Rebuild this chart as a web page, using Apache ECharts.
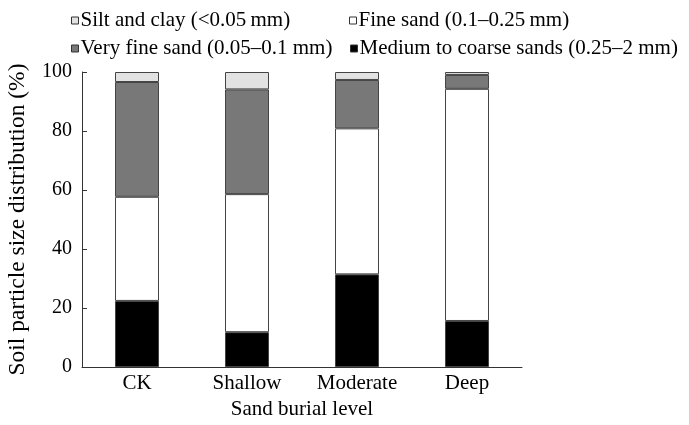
<!DOCTYPE html>
<html><head><meta charset="utf-8">
<script src="https://cdn.jsdelivr.net/npm/echarts@6/dist/echarts.min.js"></script>
<style>html,body{margin:0;padding:0;background:#fff}#c{width:689px;height:425px}</style>
</head><body><div id="c"></div>
<script>
var categories = ['CK', 'Shallow', 'Moderate', 'Deep'];
var mediumCoarse = [22.4, 11.8, 31.4, 15.6];
var fineSand = [35.3, 46.8, 49.5, 78.7];
var veryFineSand = [38.9, 35.5, 16.4, 4.7];
var siltClay = [3.4, 5.9, 2.7, 1.0];
var yTicks = [0, 20, 40, 60, 80, 100];

var names = {
  silt: 'Silt and clay (<0.05\u2009mm)',
  fine: 'Fine sand (0.1\u20130.25\u2009mm)',
  vfine: 'Very fine sand (0.05\u20130.1 mm)',
  med: 'Medium to coarse sands (0.25\u20132 mm)'
};
var font = 'Liberation Serif';
var chart = echarts.init(document.getElementById('c'));
function s(name, data, color) {
  return {name: name, type: 'bar', stack: 'a', data: data, barWidth: '40%',
    itemStyle: {color: color, borderColor: '#444', borderWidth: 1}};
}
function lg(name, left, top) {
  return {data: [name], left: left, top: top, padding: 0, icon: 'rect',
    itemWidth: 7, itemHeight: 7,
    itemStyle: {borderColor: '#333', borderWidth: 1},
    textStyle: {fontFamily: font, fontSize: 21, color: '#000', padding: [0, 0, 0, -3]}};
}
chart.setOption({
  animation: false,
  legend: [
    lg(names.silt, 71, 10),
    lg(names.fine, 349, 10),
    lg(names.vfine, 71, 38),
    lg(names.med, 350, 38)
  ],
  grid: {left: 82, right: 167, top: 72, bottom: 58, outerBoundsMode: 'none', containLabel: false},
  xAxis: {type: 'category', data: categories,
    name: 'Sand burial level', nameLocation: 'middle', nameGap: 31,
    nameTextStyle: {fontFamily: font, fontSize: 21, color: '#000'},
    axisLine: {lineStyle: {color: '#333', width: 1}},
    axisTick: {inside: true, length: 5, lineStyle: {color: '#333'}},
    axisLabel: {fontFamily: font, fontSize: 21, color: '#000', margin: 6}},
  yAxis: {type: 'value', min: 0, max: 100, interval: 20,
    name: 'Soil particle size distribution (%)', nameLocation: 'middle', nameGap: 52,
    nameTextStyle: {fontFamily: font, fontSize: 23.5, color: '#000'},
    splitLine: {show: false},
    axisLine: {show: true, lineStyle: {color: '#333', width: 1}},
    axisTick: {show: true, inside: true, length: 5, lineStyle: {color: '#333'}},
    axisLabel: {fontFamily: font, fontSize: 20, color: '#000', margin: 10,
      formatter: function(v){ return yTicks.indexOf(v) >= 0 ? String(v) : ''; }}},
  series: [
    s(names.med, mediumCoarse, '#000000'),
    s(names.fine, fineSand, '#ffffff'),
    s(names.vfine, veryFineSand, '#787878'),
    s(names.silt, siltClay, '#e2e2e2')
  ]
});
</script></body></html>
